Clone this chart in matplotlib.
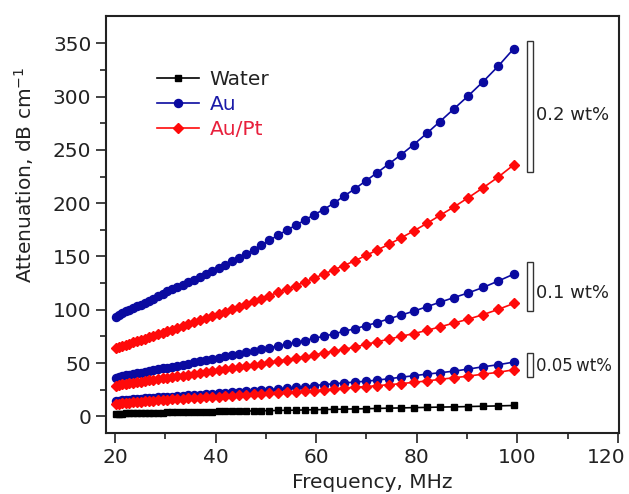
import matplotlib
matplotlib.use("Agg")
import matplotlib.pyplot as plt
import matplotlib.transforms as mtransforms
from matplotlib.patches import Rectangle

# frequency points (MHz)
freq = [20.1, 20.7, 21.4, 22.1, 22.8, 23.6, 24.3, 25.1, 25.9, 26.8,
        27.6, 28.5, 29.5, 30.4, 31.4, 32.4, 33.5, 34.6, 35.7, 36.9,
        38.1, 39.3, 40.6, 41.9, 43.2, 44.7, 46.1, 47.6, 49.1, 50.7,
        52.4, 54.1, 55.9, 57.7, 59.5, 61.5, 63.5, 65.5, 67.7, 69.9,
        72.1, 74.5, 76.9, 79.4, 82.0, 84.6, 87.4, 90.2, 93.2, 96.2, 99.3]

water = [2.5, 2.6, 2.7, 2.8, 2.9, 3.0, 3.1, 3.2, 3.3, 3.4,
         3.5, 3.6, 3.7, 3.8, 3.9, 4.0, 4.1, 4.2, 4.3, 4.4,
         4.5, 4.6, 4.7, 4.8, 4.9, 5.0, 5.1, 5.2, 5.3, 5.5,
         5.6, 5.8, 5.9, 6.1, 6.3, 6.5, 6.7, 6.9, 7.1, 7.3,
         7.5, 7.8, 8.0, 8.3, 8.5, 8.8, 9.0, 9.3, 9.6, 9.9, 10.3]

au_02 = [93.5, 95, 97, 98.5, 100, 101.8, 103.2, 104.8, 106.5, 108.5,
         110.5, 112.7, 115, 117.2, 119.5, 121.5, 123.5, 125.8, 128.2, 130.8,
         133.5, 136.4, 139.4, 142.3, 145.4, 149, 152.6, 156.4, 160.4, 165,
         170, 174.5, 179.2, 184, 189, 194, 200, 206.5, 213.5, 221,
         228.5, 237, 245.5, 255, 265.5, 276.5, 288.5, 300.5, 314, 328.5, 345]

aupt_02 = [64, 65, 66, 67.2, 68.3, 69.5, 70.6, 71.8, 73, 74.4,
           75.7, 77, 78.6, 80, 81.5, 83, 84.7, 86.4, 88.2, 90.1,
           92, 94, 96.2, 98.4, 100.6, 103.1, 105.5, 108, 110.6, 113.3,
           116.3, 119.3, 122.5, 126, 129.5, 133.5, 137.5, 141.5, 146, 151,
           156, 161.5, 167.5, 174, 181, 188.5, 196.5, 205, 214.5, 224.5, 236]

au_01 = [36.5, 37.2, 37.8, 38.5, 39.1, 39.8, 40.5, 41.2, 41.9, 42.7,
         43.4, 44.2, 45.1, 45.9, 46.8, 47.7, 48.6, 49.6, 50.6, 51.7,
         52.8, 53.9, 55.1, 56.3, 57.5, 58.9, 60.2, 61.6, 63, 64.5,
         66.1, 67.7, 69.4, 71.2, 73.2, 75.2, 77.4, 79.8, 82.3, 85.1,
         88, 91.6, 95.1, 98.7, 102.9, 107.1, 111.5, 115.8, 121, 127, 133.5]

aupt_01 = [29, 29.5, 30, 30.5, 31, 31.5, 32, 32.6, 33.2, 33.8,
           34.4, 35, 35.7, 36.3, 37, 37.7, 38.4, 39.2, 40, 40.8,
           41.6, 42.4, 43.3, 44.2, 45.1, 46.2, 47.2, 48.3, 49.4, 50.6,
           51.9, 53.2, 54.6, 56, 57.6, 59.6, 61.2, 63, 65, 67.6,
           70, 72.5, 75.2, 77.7, 80.7, 84, 87.6, 91.2, 95.5, 100.4, 106]

au_005 = [14.5, 14.8, 15.1, 15.4, 15.7, 16, 16.3, 16.6, 16.9, 17.2,
          17.5, 17.8, 18.1, 18.4, 18.7, 19, 19.4, 19.8, 20.1, 20.5,
          20.9, 21.3, 21.8, 22.2, 22.6, 23.1, 23.6, 24.1, 24.6, 25.2,
          25.8, 26.5, 27.2, 28, 29, 29.8, 30.7, 31.4, 32.3, 33,
          34.1, 35.4, 36.8, 38.2, 39.7, 41, 42.5, 44.4, 46.6, 48.5, 51]

aupt_005 = [11.8, 12.1, 12.4, 12.7, 13, 13.3, 13.6, 13.9, 14.2, 14.5,
            14.8, 15.1, 15.4, 15.7, 16, 16.3, 16.6, 16.9, 17.2, 17.5,
            17.8, 18.1, 18.5, 18.9, 19.3, 19.7, 20.1, 20.6, 21.1, 21.6,
            22.1, 22.7, 23.2, 23.7, 24.2, 25.1, 25.8, 26.6, 27.3, 28,
            28.9, 29.8, 30.8, 32, 33.3, 34.8, 36.3, 37.8, 39.7, 41.4, 43.8]

# concentration brackets: label, bottom, top
bracket_labels = ["0.2 wt%", "0.1 wt%", "0.05\u2009wt%"]
bracket_lo = [229, 98.5, 37]
bracket_hi = [352, 144.5, 59.5]

BLUE = "#0a0aa0"
RED = "#ff0a0a"
TXT = "#222222"

plt.rcParams["font.family"] = "DejaVu Sans"
plt.rcParams["text.color"] = TXT
plt.rcParams["axes.labelcolor"] = TXT
plt.rcParams["xtick.color"] = TXT
plt.rcParams["ytick.color"] = TXT

fig = plt.figure(figsize=(6.29, 4.94), dpi=100)
ax = fig.add_axes([0.1685, 0.1235, 0.8155, 0.8441])

lw = 1.2
ax.plot(freq, water, color="black", marker="s", ms=4.5, lw=lw, label="Water")
ax.plot(freq, au_02, color=BLUE, marker="o", ms=5.8, lw=lw, label="Au")
ax.plot(freq, aupt_02, color=RED, marker="D", ms=5, lw=lw, label="Au/Pt")
ax.plot(freq, au_01, color=BLUE, marker="o", ms=5.8, lw=lw)
ax.plot(freq, aupt_01, color=RED, marker="D", ms=5, lw=lw)
ax.plot(freq, au_005, color=BLUE, marker="o", ms=5.8, lw=lw)
ax.plot(freq, aupt_005, color=RED, marker="D", ms=5, lw=lw)

label_y = [283, 116, 47]
for lab, lo, hi, ty in zip(bracket_labels, bracket_lo, bracket_hi, label_y):
    ax.add_patch(Rectangle((102.0, lo), 1.1, hi - lo, fill=False,
                           ec="#333333", lw=1.0, clip_on=False))
    fs = 12 if "0.05" in lab else 13
    ax.text(103.7, ty, lab, fontsize=fs, va="center", ha="left")

ax.set_xlim(18.2, 120.2)
ax.set_ylim(-15.5, 375.5)
ax.set_xticks([20, 40, 60, 80, 100, 120])
ax.set_xticks([30, 50, 70, 90, 110], minor=True)
ax.set_yticks(range(0, 351, 50))
ax.set_yticks(range(25, 351, 50), minor=True)
ax.tick_params(which="both", direction="out", top=False, right=False,
               labelsize=14.5, width=1.2)
ax.tick_params(which="major", length=7)
ax.tick_params(which="minor", length=4)
for s in ax.spines.values():
    s.set_linewidth(1.5)
    s.set_color("#222222")

# the last x label sits a little left so it stays inside the picture
last = ax.get_xticklabels()[-1]
last.set_transform(last.get_transform() +
                   mtransforms.ScaledTranslation(-0.12, 0, fig.dpi_scale_trans))

ax.set_xlabel("Frequency, MHz", fontsize=14.5)
ax.set_ylabel("Attenuation, dB cm$^{-1}$", fontsize=14.5)
ax.xaxis.set_label_coords(0.52, -0.095)
ax.yaxis.set_label_coords(-0.137, 0.62)

leg = ax.legend(loc="upper left", bbox_to_anchor=(0.08, 0.895),
                frameon=False, fontsize=14.5, borderpad=0, handlelength=2.1,
                handletextpad=0.5, labelspacing=0.3)
for t, c in zip(leg.get_texts(), [TXT, "#1a1aa8", "#e8203c"]):
    t.set_color(c)

fig.savefig("out.png", dpi=100)
